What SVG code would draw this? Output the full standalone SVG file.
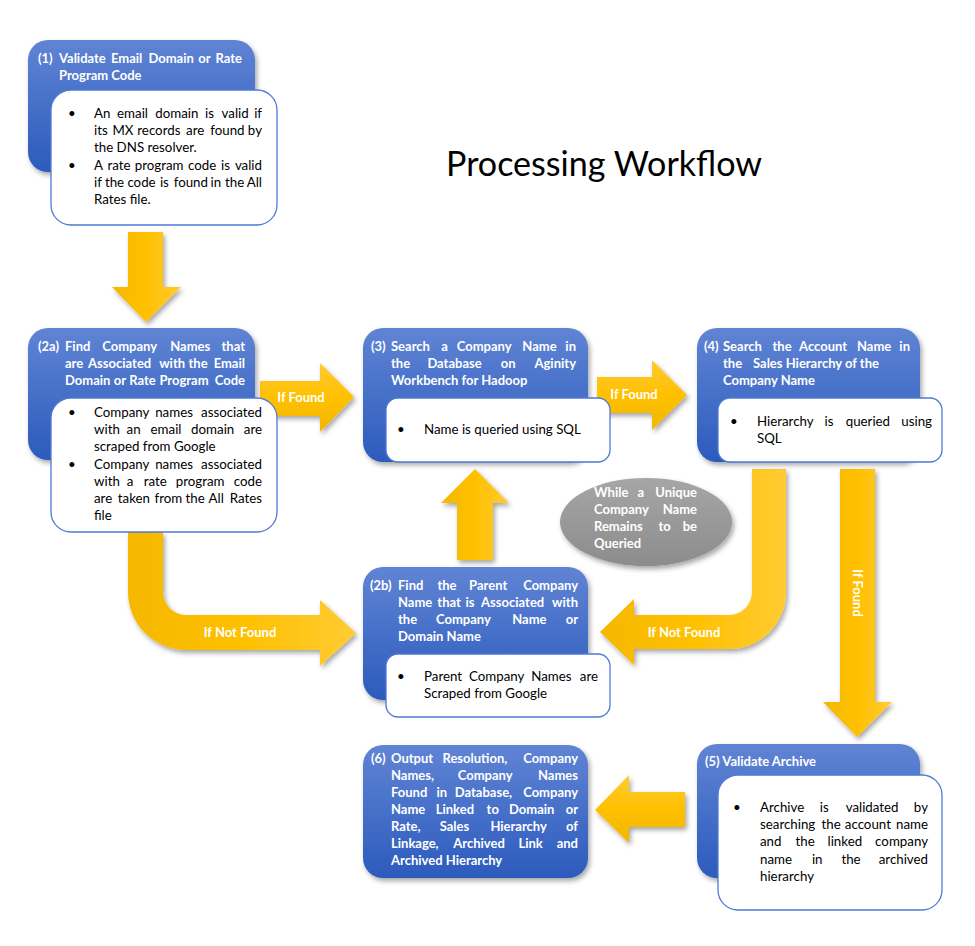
<svg xmlns="http://www.w3.org/2000/svg" width="975" height="946" viewBox="0 0 975 946">
<defs>
<linearGradient id="gBlue" x1="0" y1="0" x2="0" y2="1">
<stop offset="0" stop-color="#6084d4"/>
<stop offset="1" stop-color="#2c5bbd"/>
</linearGradient>
<linearGradient id="gGoldV" x1="0" y1="0" x2="1" y2="0">
<stop offset="0" stop-color="#f5b800"/>
<stop offset="0.5" stop-color="#ffc000"/>
<stop offset="1" stop-color="#ffcb33"/>
</linearGradient>
<linearGradient id="gGoldH" x1="0" y1="0" x2="0" y2="1">
<stop offset="0" stop-color="#ffcb33"/>
<stop offset="0.5" stop-color="#ffc000"/>
<stop offset="1" stop-color="#f2b600"/>
</linearGradient>
<linearGradient id="gGray" x1="0" y1="0" x2="0" y2="1">
<stop offset="0" stop-color="#a6a6a6"/>
<stop offset="1" stop-color="#8c8c8c"/>
</linearGradient>
<filter id="sh" x="-10%" y="-10%" width="125%" height="125%">
<feDropShadow dx="2" dy="3" stdDeviation="2.5" flood-color="#000" flood-opacity="0.35"/>
</filter>
</defs>
<style>
.blue{fill:url(#gBlue);filter:url(#sh)}
.white{fill:#fff;stroke:#4f7ad4;stroke-width:1.3}
.arrV{fill:url(#gGoldV);filter:url(#sh)}
.arrH{fill:url(#gGoldH);filter:url(#sh)}
.hd{font-family:Lato,"Liberation Sans",sans-serif;font-size:13px;font-weight:bold;fill:#fff}
.bd{font-family:Lato,"Liberation Sans",sans-serif;font-size:13.3px;fill:#000}
.lb{font-family:Lato,"Liberation Sans",sans-serif;font-size:13px;font-weight:bold;fill:#fff;text-anchor:middle}
.ttl{font-family:Lato,"Liberation Sans",sans-serif;font-size:34px;fill:#000}
.e{text-anchor:end}
</style>
<rect width="975" height="946" fill="#fff"/>
<text class="ttl" x="446" y="176" textLength="316" lengthAdjust="spacingAndGlyphs">Processing Workflow</text>

<g id="connectors">
<path class="arrV" d="M128,232 L163,232 L163,287 L181,287 L146,322 L112,287 L128,287 Z"/>
<path class="arrH" d="M260,381 L320,381 L320,363 L354,397 L320,432 L320,416 L260,416 Z"/>
<text class="lb" x="301" y="402">If Found</text>
<path class="arrH" d="M597,377 L652,377 L652,360 L687,395 L652,430 L652,413 L597,413 Z"/>
<text class="lb" x="634" y="399">If Found</text>
<path class="arrV" d="M128,532 L163,532 L163,592 A23,23 0 0 0 186,615 L320,615 L320,600 L356,633 L320,666 L320,650 L186,650 A58,58 0 0 1 128,592 Z"/>
<text class="lb" x="240" y="637">If Not Found</text>
<path class="arrV" d="M752,469 L786,469 L786,592 A57,57 0 0 1 729,649 L634,649 L634,665 L600,632 L634,599 L634,615 L729,615 A23,23 0 0 0 752,592 Z"/>
<text class="lb" x="684" y="637">If Not Found</text>
<path class="arrV" d="M457,560 L493,560 L493,503 L509,503 L475,469 L441,503 L457,503 Z"/>
<path class="arrV" d="M840,469 L875,469 L875,702 L892,702 L857,737 L823,702 L840,702 Z"/>
<text class="lb" transform="translate(853,593) rotate(90)" x="0" y="0">If Found</text>
<path class="arrH" d="M685,792 L685,827 L629,827 L629,843 L595,810 L629,775 L629,792 Z"/>
</g>

<g id="node1">
<rect class="blue" x="28" y="40" width="227" height="132" rx="20"/>
<text class="hd" x="38" y="63">(1)</text>
<text class="hd" y="63"><tspan x="59">Validate</tspan><tspan x="111">Email</tspan><tspan x="148.4">Domain</tspan><tspan x="198.3">or</tspan><tspan class="e" x="242">Rate</tspan></text>
<text class="hd" x="59" y="80">Program Code</text>
<rect class="white" x="51" y="90" width="226" height="135" rx="20"/>
<text class="bd" x="68" y="118">•</text>
<text class="bd" y="118"><tspan x="94">An</tspan><tspan x="117.1">email</tspan><tspan x="155.3">domain</tspan><tspan x="205.1">is</tspan><tspan x="221.6">valid</tspan><tspan class="e" x="262">if</tspan></text>
<text class="bd" y="135"><tspan x="94">its</tspan><tspan x="112.4">MX</tspan><tspan x="137.3">records</tspan><tspan x="186.1">are</tspan><tspan x="210.3">found</tspan><tspan class="e" x="262">by</tspan></text>
<text class="bd" x="94" y="152">the DNS resolver.</text>
<text class="bd" x="68" y="170">•</text>
<text class="bd" y="170"><tspan x="94">A</tspan><tspan x="107.5">rate</tspan><tspan x="134.8">program</tspan><tspan x="188">code</tspan><tspan x="221">is</tspan><tspan class="e" x="262">valid</tspan></text>
<text class="bd" y="187"><tspan x="94">if</tspan><tspan x="104.9">the</tspan><tspan x="127.4">code</tspan><tspan x="159.9">is</tspan><tspan x="173.7">found</tspan><tspan x="210.6">in</tspan><tspan x="225.1">the</tspan><tspan class="e" x="262">All</tspan></text>
<text class="bd" x="94" y="204">Rates file.</text>
</g>

<g id="node2a">
<rect class="blue" x="28" y="328" width="227" height="132" rx="20"/>
<text class="hd" x="38" y="351">(2a)</text>
<text class="hd" y="351"><tspan x="65">Find</tspan><tspan x="102.3">Company</tspan><tspan x="170.2">Names</tspan><tspan class="e" x="245">that</tspan></text>
<text class="hd" y="368"><tspan x="65">are</tspan><tspan x="88.1">Associated</tspan><tspan x="159.2">with</tspan><tspan x="188.5">the</tspan><tspan class="e" x="245">Email</tspan></text>
<text class="hd" y="385"><tspan x="65">Domain</tspan><tspan x="113.8">or</tspan><tspan x="129.3">Rate</tspan><tspan x="159.4">Program</tspan><tspan class="e" x="245">Code</tspan></text>
<rect class="white" x="51" y="398" width="226" height="134" rx="20"/>
<text class="bd" x="68" y="417">•</text>
<text class="bd" y="417"><tspan x="94">Company</tspan><tspan x="155.2">names</tspan><tspan class="e" x="262">associated</tspan></text>
<text class="bd" y="434"><tspan x="94">with</tspan><tspan x="126.6">an</tspan><tspan x="150.6">email</tspan><tspan x="191.1">domain</tspan><tspan class="e" x="262">are</tspan></text>
<text class="bd" x="94" y="451">scraped from Google</text>
<text class="bd" x="68" y="469">•</text>
<text class="bd" y="469"><tspan x="94">Company</tspan><tspan x="155.2">names</tspan><tspan class="e" x="262">associated</tspan></text>
<text class="bd" y="486"><tspan x="94">with</tspan><tspan x="126.8">a</tspan><tspan x="143.7">rate</tspan><tspan x="175.8">program</tspan><tspan class="e" x="262">code</tspan></text>
<text class="bd" y="503"><tspan x="94">are</tspan><tspan x="117.8">taken</tspan><tspan x="154.6">from</tspan><tspan x="185.6">the</tspan><tspan x="208.6">All</tspan><tspan class="e" x="262">Rates</tspan></text>
<text class="bd" x="94" y="520">file</text>
</g>

<g id="node3">
<rect class="blue" x="363" y="328" width="225" height="134" rx="20"/>
<text class="hd" x="371" y="351">(3)</text>
<text class="hd" y="351"><tspan x="391">Search</tspan><tspan x="441.3">a</tspan><tspan x="456.8">Company</tspan><tspan x="522.3">Name</tspan><tspan class="e" x="576">in</tspan></text>
<text class="hd" y="368"><tspan x="391">the</tspan><tspan x="427.4">Database</tspan><tspan x="500.7">on</tspan><tspan class="e" x="576">Aginity</tspan></text>
<text class="hd" x="391" y="385">Workbench for Hadoop</text>
<rect class="white" x="386" y="398" width="224" height="64" rx="12"/>
<text class="bd" x="397" y="434">•</text>
<text class="bd" x="424" y="434">Name is queried using SQL</text>
</g>

<g id="node4">
<rect class="blue" x="697" y="328" width="223" height="134" rx="20"/>
<text class="hd" x="704" y="351">(4)</text>
<text class="hd" y="351"><tspan x="723">Search</tspan><tspan x="772.5">the</tspan><tspan x="799.1">Account</tspan><tspan x="857">Name</tspan><tspan class="e" x="910">in</tspan></text>
<text class="hd" y="368"><tspan x="723">the</tspan><tspan x="753">Sales Hierarchy of the</tspan></text>
<text class="hd" x="723" y="385">Company Name</text>
<rect class="white" x="718" y="398" width="224" height="64" rx="12"/>
<text class="bd" x="730" y="426">•</text>
<text class="bd" y="426"><tspan x="757">Hierarchy</tspan><tspan x="824.5">is</tspan><tspan x="845.7">queried</tspan><tspan class="e" x="932">using</tspan></text>
<text class="bd" x="757" y="443">SQL</text>
</g>

<g id="loopnote">
<ellipse cx="646" cy="522" rx="86" ry="44" fill="url(#gGray)" filter="url(#sh)"/>
<text class="hd" y="497"><tspan x="594">While</tspan><tspan x="637.5">a</tspan><tspan class="e" x="697">Unique</tspan></text>
<text class="hd" y="514"><tspan x="594">Company</tspan><tspan class="e" x="697">Name</tspan></text>
<text class="hd" y="531"><tspan x="594">Remains</tspan><tspan x="658.4">to</tspan><tspan class="e" x="697">be</tspan></text>
<text class="hd" x="594" y="548">Queried</text>
</g>

<g id="node2b">
<rect class="blue" x="363" y="567" width="225" height="133" rx="20"/>
<text class="hd" x="370" y="590">(2b)</text>
<text class="hd" y="590"><tspan x="398">Find</tspan><tspan x="437.4">the</tspan><tspan x="469.1">Parent</tspan><tspan class="e" x="578">Company</tspan></text>
<text class="hd" y="607"><tspan x="398">Name</tspan><tspan x="437.3">that</tspan><tspan x="465.4">is</tspan><tspan x="481.1">Associated</tspan><tspan class="e" x="578">with</tspan></text>
<text class="hd" y="624"><tspan x="398">the</tspan><tspan x="436">Company</tspan><tspan x="512.2">Name</tspan><tspan class="e" x="578">or</tspan></text>
<text class="hd" x="398" y="641">Domain Name</text>
<rect class="white" x="386" y="654" width="224" height="63" rx="12"/>
<text class="bd" x="397" y="681">•</text>
<text class="bd" y="681"><tspan x="424">Parent</tspan><tspan x="469">Company</tspan><tspan x="531.3">Names</tspan><tspan class="e" x="598">are</tspan></text>
<text class="bd" x="424" y="698">Scraped from Google</text>
</g>

<g id="node5">
<rect class="blue" x="697" y="744" width="223" height="134" rx="20"/>
<text class="hd" x="705" y="766">(5) Validate Archive</text>
<rect class="white" x="718" y="775" width="224" height="135" rx="20"/>
<text class="bd" x="733" y="812">•</text>
<text class="bd" y="812"><tspan x="760">Archive</tspan><tspan x="819.8">is</tspan><tspan x="845.7">validated</tspan><tspan class="e" x="928">by</tspan></text>
<text class="bd" y="829"><tspan x="760">searching</tspan><tspan x="821.5">the</tspan><tspan x="844.8">account</tspan><tspan class="e" x="928">name</tspan></text>
<text class="bd" y="846"><tspan x="760">and</tspan><tspan x="795.5">the</tspan><tspan x="827.5">linked</tspan><tspan class="e" x="928">company</tspan></text>
<text class="bd" y="864"><tspan x="760">name</tspan><tspan x="811.9">in</tspan><tspan x="841.4">the</tspan><tspan class="e" x="928">archived</tspan></text>
<text class="bd" x="760" y="881">hierarchy</text>
</g>

<g id="node6">
<rect class="blue" x="363" y="745" width="225" height="133" rx="20"/>
<text class="hd" x="371" y="763">(6)</text>
<text class="hd" y="763"><tspan x="391">Output</tspan><tspan x="442.5">Resolution,</tspan><tspan class="e" x="578">Company</tspan></text>
<text class="hd" y="780"><tspan x="391">Names,</tspan><tspan x="457.8">Company</tspan><tspan class="e" x="578">Names</tspan></text>
<text class="hd" y="797"><tspan x="391">Found</tspan><tspan x="436.4">in</tspan><tspan x="454.8">Database,</tspan><tspan class="e" x="578">Company</tspan></text>
<text class="hd" y="814"><tspan x="391">Name</tspan><tspan x="435.7">Linked</tspan><tspan x="486.6">to</tspan><tspan x="509">Domain</tspan><tspan class="e" x="578">or</tspan></text>
<text class="hd" y="831"><tspan x="391">Rate,</tspan><tspan x="439.7">Sales</tspan><tspan x="490.4">Hierarchy</tspan><tspan class="e" x="578">of</tspan></text>
<text class="hd" y="848"><tspan x="391">Linkage,</tspan><tspan x="453.3">Archived</tspan><tspan x="518.4">Link</tspan><tspan class="e" x="578">and</tspan></text>
<text class="hd" x="391" y="865">Archived Hierarchy</text>
</g>
</svg>
